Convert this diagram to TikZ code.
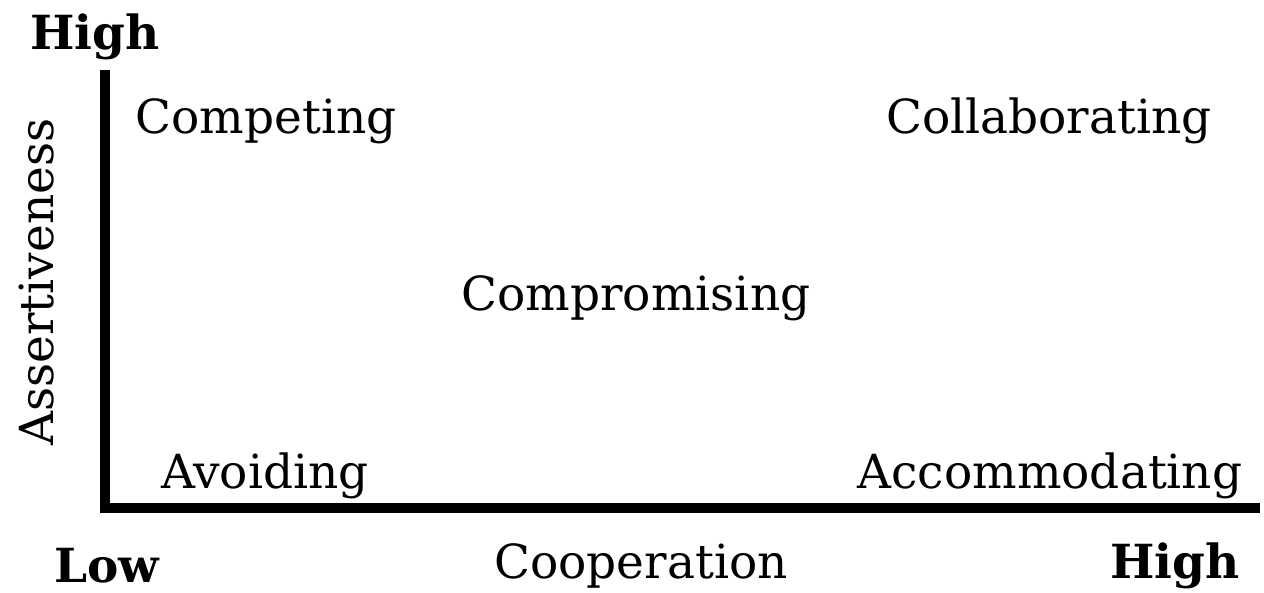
\documentclass[tikz,border=0pt]{standalone}
\usepackage{fontspec}
\setmainfont{DejaVu Serif}
\begin{document}
\begin{tikzpicture}[x=1pt,y=-1pt,
  lbl/.style={inner sep=0pt,font=\fontsize{47}{52}\selectfont},
  blbl/.style={inner sep=0pt,font=\fontsize{47}{52}\selectfont\bfseries},
  axis/.style={line width=10pt}]
\useasboundingbox (0,0) rectangle (1264,592);
\coordinate (top) at (105,70);
\coordinate (origin) at (105,508);
\coordinate (right) at (1260,508);
\draw[axis] (top) -- (origin.center) -- (right);
\node[blbl] (hy) at (95,37) {High};
\node[lbl] (comp) at (266,121) {Competing};
\node[lbl] (coll) at (1049,121) {Collaborating};
\node[lbl] (cpr) at (636,298) {Compromising};
\node[lbl] (avo) at (265,476) {Avoiding};
\node[lbl] (acc) at (1050,476) {Accommodating};
\node[blbl] (low) at (107,566) {Low};
\node[lbl] (coop) at (641,566) {Cooperation};
\node[blbl] (hx) at (1175,566) {High};
\node[lbl,rotate=90] (ass) at (37,282) {Assertiveness};
\end{tikzpicture}
\end{document}
